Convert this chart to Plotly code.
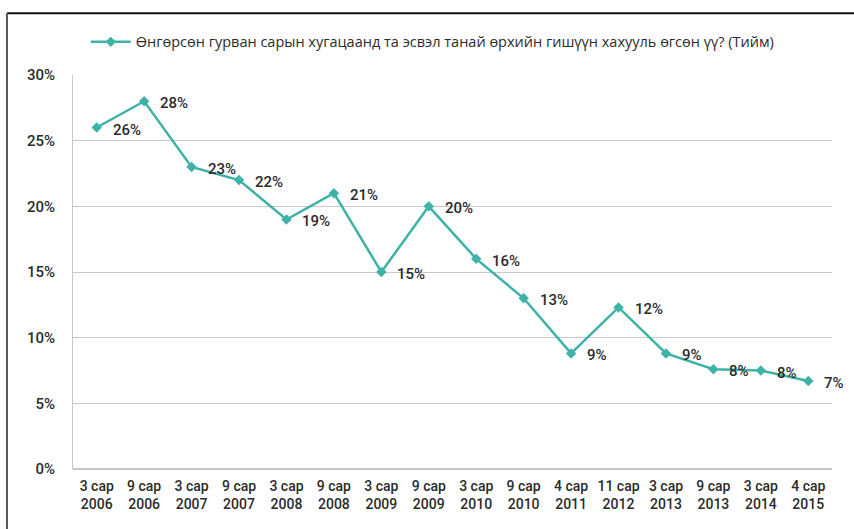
import plotly.graph_objects as go

# Survey periods (month + year) and the share answering "yes"
periods = ["3 сар", "9 сар", "3 сар", "9 сар", "3 сар", "9 сар", "3 сар", "9 сар",
           "3 сар", "9 сар", "4 сар", "11 сар", "3 сар", "9 сар", "3 сар", "4 сар"]
years = ["2006", "2006", "2007", "2007", "2008", "2008", "2009", "2009",
         "2010", "2010", "2011", "2012", "2013", "2013", "2014", "2015"]
share_yes = [26.0, 28.0, 23.0, 22.0, 19.0, 21.0, 15.0, 20.0,
             16.0, 13.0, 8.8, 12.3, 8.8, 7.6, 7.5, 6.7]
y_ticks = [0, 5, 10, 15, 20, 25, 30]
series_name = "Өнгөрсөн гурван сарын хугацаанд та эсвэл танай өрхийн гишүүн хахууль өгсөн үү? (Тийм)"

categories = [f"{p}<br>{y}" for p, y in zip(periods, years)]
xs = list(range(len(categories)))

TEAL = "#3db2a6"
TEXT = "#2b2b2b"
FONT = "Roboto"

fig = go.Figure()
fig.add_trace(go.Scatter(
    x=xs,
    y=share_yes,
    mode="lines+markers",
    name=series_name,
    line=dict(color=TEAL, width=2.5),
    marker=dict(symbol="diamond", size=8, color=TEAL),
    cliponaxis=False,
))

# Value labels to the right of each point
for xi, v in zip(xs, share_yes):
    fig.add_annotation(
        x=xi, y=v, text=f"{v:.0f}%",
        showarrow=False, xanchor="left", yanchor="middle",
        xshift=14, yshift=-2,
        font=dict(family=FONT, size=15, color=TEXT, weight=500),
    )

fig.update_layout(
    width=854, height=529,
    margin=dict(l=73, r=22, t=75, b=60),
    paper_bgcolor="white",
    plot_bgcolor="white",
    showlegend=True,
    legend=dict(
        orientation="h",
        x=0.474, xanchor="center",
        y=1.084, yanchor="middle",
        font=dict(family="Open Sans", size=14.5, color=TEXT),
        itemwidth=40,
        bgcolor="rgba(0,0,0,0)",
    ),
    xaxis=dict(
        tickmode="array",
        tickvals=xs,
        ticktext=categories,
        range=[-0.5, len(categories) - 0.5],
        showgrid=False,
        showline=False,
        zeroline=False,
        ticks="",
        ticklabelstandoff=7,
        tickfont=dict(family=FONT, size=14, color=TEXT, weight=500),
    ),
    yaxis=dict(
        range=[0, 30],
        tickvals=y_ticks,
        ticktext=[f"{t}%" for t in y_ticks],
        showgrid=True,
        gridcolor="#c8c8c8",
        gridwidth=1,
        showline=True,
        linecolor="#c8c8c8",
        zeroline=True,
        zerolinecolor="#c8c8c8",
        ticks="",
        ticklabelstandoff=14,
        tickfont=dict(family=FONT, size=15, color=TEXT, weight=500),
    ),
)

# Outer frame: dark rule along the top and left edge of the figure
fig.add_shape(type="line", xref="paper", yref="paper",
              x0=-0.087, x1=1.05, y0=1.157, y1=1.157,
              line=dict(color="#111111", width=2))
fig.add_shape(type="line", xref="paper", yref="paper",
              x0=-0.087, x1=-0.087, y0=-0.2, y1=1.157,
              line=dict(color="#555555", width=2))

fig.write_html("out.html")
